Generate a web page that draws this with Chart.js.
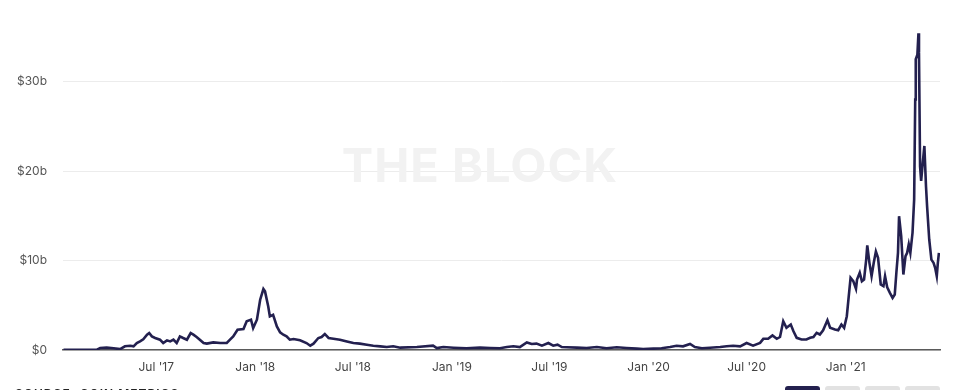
<!DOCTYPE html>
<html>
<head>
<meta charset="utf-8">
<script src="https://cdn.jsdelivr.net/npm/chart.js@4/dist/chart.umd.min.js"></script>
<style>
  body { margin: 0; background: #fff; overflow: hidden; font-family: Inter, "Noto Sans", sans-serif; }
  #wrap { position: relative; width: 960px; height: 390px; overflow: hidden; }
  #wrap canvas { position: absolute; left: 0; top: 0; }
  .source { position: absolute; left: 15px; top: 386px; font-size: 12px; font-weight: 600; letter-spacing: 1px; color: #222; }
  .btn { position: absolute; top: 386px; width: 35px; height: 20px; border-radius: 3px; background: #e2e2e2; }
  .btn.on { background: #24214f; }
</style>
</head>
<body>
<div id="wrap">
  <canvas id="volChart" width="960" height="390"></canvas>
  <div class="source">SOURCE: COIN METRICS</div>
  <div class="btn on" style="left:785px"></div>
  <div class="btn" style="left:825px"></div>
  <div class="btn" style="left:865px"></div>
  <div class="btn" style="left:905px"></div>
</div>
<script>
// ===== DADOS =====
// dias desde 1 jan 2017
const days = [9, 40, 71, 77, 89, 102, 114, 123, 133, 139, 145, 151, 157, 164, 168, 173, 179, 188, 194, 201,
  207, 213, 219, 225, 231, 238, 245, 250, 256, 262, 269, 275, 287, 300, 312, 318, 324, 332, 343, 349,
  357, 361, 368, 374, 380, 383, 389, 392, 398, 405, 411, 417, 423, 429, 436, 448, 460, 467, 473, 482,
  488, 494, 501, 510, 522, 535, 547, 559, 572, 584, 597, 609, 621, 634, 665, 695, 702, 714, 733, 757,
  782, 801, 819, 832, 844, 856, 869, 878, 887, 897, 909, 918, 926, 934, 943, 962, 980, 999, 1017, 1036,
  1054, 1073, 1085, 1104, 1119, 1135, 1147, 1159, 1172, 1181, 1194, 1209, 1228, 1240, 1252, 1265, 1277, 1289, 1302, 1308,
  1317, 1325, 1333, 1339, 1345, 1351, 1359, 1364, 1370, 1379, 1388, 1395, 1401, 1407, 1413, 1419, 1427, 1432, 1441, 1447,
  1453, 1458, 1463, 1466, 1470, 1475, 1480, 1482, 1487, 1491, 1495, 1499, 1501, 1505, 1509, 1513, 1517, 1521, 1526, 1531,
  1534, 1538, 1543, 1548, 1552, 1555, 1558, 1560, 1564, 1568, 1572, 1575, 1578, 1581, 1585, 1588, 1590, 1591, 1594, 1596,
  1597, 1599, 1601, 1604, 1607, 1610, 1612, 1616, 1620, 1624, 1627, 1630, 1632, 1634];

// volume em bilhoes de dolares
const volume = [0.02, 0.03, 0.05, 0.22, 0.26, 0.19, 0.1, 0.41, 0.48, 0.41, 0.78, 0.96, 1.2, 1.71, 1.9, 1.52, 1.34, 1.15, 0.78, 1.08,
  0.96, 1.15, 0.78, 1.52, 1.34, 1.15, 1.9, 1.71, 1.45, 1.15, 0.78, 0.71, 0.85, 0.78, 0.78, 1.15, 1.52, 2.27, 2.34, 3.2,
  3.39, 2.45, 3.39, 5.62, 6.81, 6.55, 4.87, 3.76, 3.94, 2.64, 1.97, 1.71, 1.52, 1.15, 1.23, 1.08, 0.78, 0.48, 0.71, 1.34,
  1.45, 1.79, 1.34, 1.26, 1.15, 0.96, 0.78, 0.71, 0.59, 0.48, 0.41, 0.33, 0.41, 0.26, 0.33, 0.48, 0.22, 0.33, 0.26, 0.19,
  0.26, 0.22, 0.19, 0.33, 0.41, 0.33, 0.85, 0.67, 0.71, 0.48, 0.78, 0.48, 0.59, 0.33, 0.3, 0.26, 0.22, 0.33, 0.19, 0.3,
  0.22, 0.15, 0.11, 0.15, 0.19, 0.33, 0.48, 0.41, 0.67, 0.33, 0.19, 0.26, 0.33, 0.41, 0.48, 0.41, 0.78, 0.48, 0.8, 1.25,
  1.25, 1.62, 1.25, 1.45, 3.22, 2.48, 2.85, 2.1, 1.36, 1.17, 1.17, 1.36, 1.45, 1.92, 1.73, 2.21, 3.33, 2.48, 2.29, 2.21,
  2.85, 2.48, 3.78, 5.64, 8.07, 7.69, 6.84, 7.88, 8.63, 7.69, 7.88, 10.1, 11.7, 9.74, 8.25, 9.74, 11.0, 10.3, 7.32, 7.13,
  8.25, 7.0, 6.39, 5.83, 6.2, 8.63, 10.86, 14.95, 12.7, 8.44, 10.48, 10.86, 11.8, 10.86, 13.1, 16.8, 28.0, 32.5, 33.0, 35.4,
  33.2, 20.5, 18.9, 20.9, 22.8, 18.3, 16.1, 12.35, 10.1, 9.74, 9.18, 8.25, 9.74, 10.86];

// ticks do eixo x (dias desde 1 jan 2017)
const tickDays = [181, 365, 546, 730, 911, 1095, 1277, 1461];
const tickLabels = ["Jul '17", "Jan '18", "Jul '18", "Jan '19", "Jul '19", "Jan '20", "Jul '20", "Jan '21"];
const yTicks = [0, 10, 20, 30];

// ===== MARCA D'AGUA =====
const watermark = {
  id: "watermark",
  beforeDatasetsDraw(chart) {
    const ctx = chart.ctx;
    ctx.save();
    ctx.font = "700 47px Inter, sans-serif";
    ctx.fillStyle = "#f2f2f2";
    ctx.textAlign = "center";
    ctx.textBaseline = "middle";
    if ("letterSpacing" in ctx) ctx.letterSpacing = "1px";
    ctx.fillText("THE BLOCK", chart.width / 2, 168);
    ctx.restore();
  }
};

// ===== GRAFICO =====
new Chart(document.getElementById("volChart"), {
  type: "line",
  data: {
    datasets: [{
      data: days.map((d, i) => ({ x: d, y: volume[i] })),
      borderColor: "#23204f",
      borderWidth: 2.6,
      pointRadius: 0,
      tension: 0,
      fill: false
    }]
  },
  options: {
    responsive: false,
    animation: false,
    layout: { padding: { top: 1, right: 20, left: 0, bottom: 0 } },
    plugins: { legend: { display: false }, tooltip: { enabled: false } },
    scales: {
      x: {
        type: "linear",
        min: 8,
        max: 1636,
        afterFit: (s) => { s.height = 40; },
        afterBuildTicks: (s) => { s.ticks = tickDays.map(v => ({ value: v })); },
        grid: { display: false, drawTicks: false },
        border: { color: "#5a5a5a", width: 1.5 },
        ticks: {
          autoSkip: false,
          maxRotation: 0,
          padding: 10,
          color: "#444",
          font: { family: "Inter", size: 12 },
          callback: (v, i) => tickLabels[i]
        }
      },
      y: {
        min: 0,
        max: 39,
        // sem folga extra no topo por causa do padding dos ticks
        afterFit: (s) => { s.width = 63; s.paddingTop = 0; s.paddingBottom = 0; },
        afterBuildTicks: (s) => { s.ticks = yTicks.map(v => ({ value: v })); },
        grid: { color: "#ececec", lineWidth: 1, drawTicks: false },
        border: { display: false },
        ticks: {
          padding: 16,
          color: "#555",
          font: { family: "Inter", size: 12 },
          callback: (v) => v === 0 ? "$0" : "$" + v + "b"
        }
      }
    }
  },
  plugins: [watermark]
});
</script>
</body>
</html>
